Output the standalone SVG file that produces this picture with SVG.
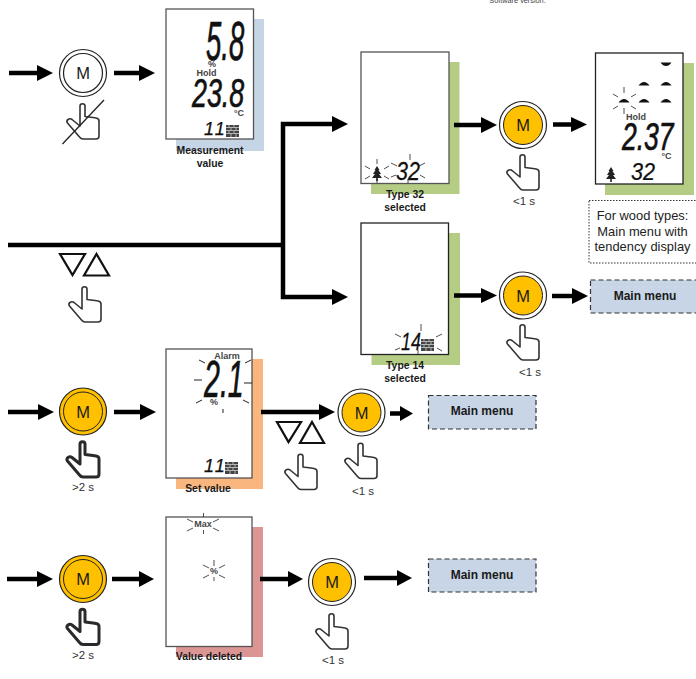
<svg xmlns="http://www.w3.org/2000/svg" width="696" height="679" viewBox="0 0 696 679">
<style>
text{font-family:"Liberation Sans",Arial,sans-serif;text-anchor:middle}
.lab{font-size:10.400px;font-weight:bold;fill:#1a1a1a}
.t{font-size:11.500px;fill:#333}
.m{font-size:16.500px;fill:#1a1a1a}
.lcdl{font-size:9px;font-weight:bold;fill:#444}
.lcd{font-style:italic;fill:#111;text-anchor:start;stroke:#111;stroke-width:.7px}
.lcds{font-style:italic;fill:#111;text-anchor:start;stroke:#111;stroke-width:.25px}
.box{fill:#fff;stroke:#555;stroke-width:1.300}
.mn{fill:#c8d5e6;stroke:#333;stroke-width:1.200;stroke-dasharray:5 3}
.mnt{font-size:12px;font-weight:bold;fill:#1a1a1a}
.ray{stroke:#222;stroke-width:.8;fill:none}
.conn{stroke:#000;stroke-width:4.500;fill:none}
.head{fill:#000}
.tri{fill:none;stroke:#111;stroke-width:2.200}
.wd{font-size:12.900px;fill:#222}
</style>
<defs>
<path id="hand" d="M14 3Q14 .7 16.500 .7Q19 .7 19 3V13.500L23 14L27 14.500L30 15Q33 15.500 33 18V33Q33 36 30 36H17Q15 36 13.500 34L1.500 20Q0 18 2 16.500Q4 15 6 16.500L14 23Z" fill="#fff" stroke="#333" stroke-width="1.600" stroke-linejoin="round"/>
<path id="handb" d="M14 3Q14 .7 16.500 .7Q19 .7 19 3V13.500L23 14L27 14.500L30 15Q33 15.500 33 18V33Q33 36 30 36H17Q15 36 13.500 34L1.500 20Q0 18 2 16.500Q4 15 6 16.500L14 23Z" fill="#fff" stroke="#2a2a2a" stroke-width="3" stroke-linejoin="round"/>
<g id="brick"><rect width="13" height="12" fill="#444"/><path d="M0 2.500H13M0 5.500H13M0 8.500H13M3 0V2.500M8 0V2.500M5 2.500V5.500M10 2.500V5.500M3 5.500V8.500M8 5.500V8.500M5 8.500V12M10 8.500V12" stroke="#ddd" stroke-width=".7" fill="none"/></g>
<path id="tree" d="M5 0L7.500 4H6.500L9 8H7L10 12H5.800V15H4.200V12H0L3 8H1L3.500 4H2.500Z" fill="#222"/>
<path id="lens" d="M-5.500 1.500Q-3 -2 0 -2Q3 -2 5.500 1.500Z" fill="#111"/>
</defs>

<text x="517.500" y="2.500" style="font-size:7.300px" fill="#444">Software version.</text>

<g id="button-m1">
<circle cx="83" cy="73" r="23.500" fill="#fff" stroke="#222" stroke-width="1.200"/><circle cx="83" cy="73" r="19.500" fill="#fff" stroke="#222" stroke-width="1.200"/>
<text class="m" x="83" y="79">M</text>
<use href="#hand" x="66" y="103"/>
<path d="M62.500 144L104 100" stroke="#222" stroke-width="1.300"/>
</g>

<g id="display-measurement">
<rect x="176" y="19" width="88" height="132" fill="#c6d5e6"/>
<rect class="box" x="166" y="9" width="87.500" height="130"/>
<text class="lcd" transform="translate(206 60) scale(.5 1)" style="font-size:55px">5.8</text>
<text class="lcdl" x="212" y="67">%</text>
<text class="lcdl" x="206.500" y="76">Hold</text>
<text class="lcd" transform="translate(192 107) scale(.67 1)" style="font-size:40px">23.8</text>
<text class="lcdl" x="239" y="116">°C</text>
<text class="lcds" x="204" y="135" style="font-size:18px;letter-spacing:2px">11</text>
<use href="#brick" x="226" y="125"/>
<text class="lab" x="210" y="154">Measurement</text>
<text class="lab" x="210" y="167">value</text>
</g>

<g id="select-triangles-1">
<path class="tri" d="M60 254H85L72.500 275ZM96.500 254L109 275.500H84Z"/>
<use href="#hand" x="68" y="286"/>
</g>

<g id="display-type32">
<rect x="371" y="62" width="88.500" height="132" fill="#b5cc84"/>
<rect class="box" x="361" y="52" width="88" height="131.500"/>
<use href="#tree" x="372" y="166"/>
<text class="lcds" transform="translate(396 180) scale(.86 1)" style="font-size:25px">32</text>
<path class="ray" d="M377 159V164M365 166L370 169M389 166L384 169M365 179L370 176M389 179L384 176M377 179V183M410 154V160M391 163L397 166M425 163L419 166M391 177L396 175M425 178L420 175M408 179V183"/>
<text class="lab" x="405" y="198">Type 32</text>
<text class="lab" x="405" y="211">selected</text>
</g>

<g id="button-m2">
<circle cx="523" cy="125" r="23.500" fill="#fff" stroke="#222" stroke-width="1.200"/><circle cx="523" cy="125" r="19.500" fill="#ffc000" stroke="#222" stroke-width="1"/>
<text class="m" x="523" y="131">M</text>
<use href="#hand" x="506" y="154"/>
<text class="t" x="524" y="205">&lt;1 s</text>
</g>

<g id="display-tendency">
<rect x="605" y="63" width="89" height="132" fill="#b5cc84"/>
<rect class="box" x="595.500" y="53" width="87.500" height="131" style="stroke:#222"/>
<use href="#lens" transform="translate(666 64) scale(1 -1)"/>
<use href="#lens" x="644" y="84"/><use href="#lens" x="666" y="84"/>
<use href="#lens" x="624" y="101"/><use href="#lens" x="644" y="101"/><use href="#lens" x="666" y="101"/>
<path class="ray" d="M624 87V93M613 94L618 97M636 94L631 97M613 109L618 106M636 109L631 106M624 108V114"/>
<text class="lcdl" x="636" y="120">Hold</text>
<text class="lcd" transform="translate(622 150) scale(.68 1)" style="font-size:39px">2.37</text>
<text class="lcdl" x="666.500" y="159">°C</text>
<use href="#tree" x="606" y="167"/>
<text class="lcds" transform="translate(631 180) scale(.9 1)" style="font-size:24px">32</text>
</g>

<g id="note-wood-types">
<rect x="589" y="200.500" width="120" height="62.500" fill="#fff" stroke="#333" stroke-width="1" stroke-dasharray="1.500 1.500"/>
<text class="wd" x="642.500" y="220">For wood types:</text>
<text class="wd" x="642.500" y="236">Main menu with</text>
<text class="wd" x="642.500" y="251">tendency display</text>
</g>

<g id="display-type14">
<rect x="371.500" y="233" width="88.500" height="132" fill="#b5cc84"/>
<rect class="box" x="361" y="223" width="87.500" height="131.500" style="stroke:#222"/>
<text class="lcds" transform="translate(401 350) scale(.78 1)" style="font-size:23px">14</text>
<use href="#brick" x="421" y="339"/>
<path class="ray" d="M421 324V331M395 334L401 337M442 334L436 337M395 350L400 348M442 351L437 348M418 350V354"/>
<text class="lab" x="405" y="369">Type 14</text>
<text class="lab" x="405" y="382">selected</text>
</g>

<g id="button-m3">
<circle cx="523" cy="295.500" r="23.500" fill="#fff" stroke="#222" stroke-width="1.200"/><circle cx="523" cy="295.500" r="19.500" fill="#ffc000" stroke="#222" stroke-width="1"/>
<text class="m" x="523" y="301.500">M</text>
<use href="#hand" x="506" y="324"/>
<text class="t" x="530" y="376">&lt;1 s</text>
</g>

<g id="main-menu-1">
<rect class="mn" x="590.500" y="280" width="110" height="33"/>
<text class="mnt" x="645" y="300">Main menu</text>
</g>

<g id="button-m4">
<circle cx="83" cy="411.500" r="23.500" fill="#ffc000" stroke="#222" stroke-width="1.200"/><circle cx="83" cy="411.500" r="19.500" fill="#ffc000" stroke="#222" stroke-width="1"/>
<text class="m" x="83" y="417.500">M</text>
<use href="#handb" x="66" y="441"/>
<text class="t" x="83" y="491">&gt;2 s</text>
</g>

<g id="display-set-value">
<rect x="176" y="359" width="87" height="130" fill="#f9b67f"/>
<rect class="box" x="166" y="349" width="86" height="129"/>
<text class="lcdl" x="227" y="359">Alarm</text>
<text class="lcd" transform="translate(204 397) scale(.55 1)" style="font-size:52px">2.1</text>
<text class="lcdl" x="214" y="405">%</text>
<path class="ray" style="stroke-width:1" d="M199 360L205 363M245 363L251 360M194 380H202M244 383H252M196 403L202 400M243 400L249 403M223 409V413"/>
<text class="lcds" x="204" y="472" style="font-size:18px;letter-spacing:2px">11</text>
<use href="#brick" x="225" y="462"/>
<text class="lab" x="208" y="492">Set value</text>
</g>

<g id="select-triangles-2">
<path class="tri" d="M277 422H301L288.500 442ZM312 422L324 443H300Z"/>
<use href="#hand" x="284" y="453.500"/>
</g>

<g id="button-m5">
<circle cx="361.500" cy="412.500" r="23.500" fill="#fff" stroke="#222" stroke-width="1.200"/><circle cx="361.500" cy="412.500" r="19.500" fill="#ffc000" stroke="#222" stroke-width="1"/>
<text class="m" x="361.500" y="418.500">M</text>
<use href="#hand" x="344" y="442.500"/>
<text class="t" x="363" y="495">&lt;1 s</text>
</g>

<g id="main-menu-2">
<rect class="mn" x="428.500" y="395.500" width="107.500" height="33.500"/>
<text class="mnt" x="482" y="415">Main menu</text>
</g>

<g id="button-m6">
<circle cx="83" cy="579" r="23.500" fill="#ffc000" stroke="#222" stroke-width="1.200"/><circle cx="83" cy="579" r="19.500" fill="#ffc000" stroke="#222" stroke-width="1"/>
<text class="m" x="83" y="585">M</text>
<use href="#handb" x="66" y="608.500"/>
<text class="t" x="83" y="659">&gt;2 s</text>
</g>

<g id="display-value-deleted">
<rect x="176" y="527" width="87" height="130" fill="#db9694"/>
<rect class="box" x="166" y="517" width="86" height="129.500"/>
<text class="lcdl" x="203" y="526.500">Max</text>
<path class="ray" d="M187 519L193 522M219 519L213 522M187 531L193 528M219 531L213 528M203.500 513V517M203.500 530V534"/>
<text class="lcdl" x="214" y="574">%</text>
<path class="ray" d="M214 560V566M203 565L209 568M225 565L219 568M203 578L209 575M225 578L219 575M214 577V581"/>
<text class="lab" x="209" y="660">Value deleted</text>
</g>

<g id="button-m7">
<circle cx="332" cy="582" r="23.500" fill="#fff" stroke="#222" stroke-width="1.200"/><circle cx="332" cy="582" r="19.500" fill="#ffc000" stroke="#222" stroke-width="1"/>
<text class="m" x="332" y="588">M</text>
<use href="#hand" x="315" y="613"/>
<text class="t" x="333" y="664">&lt;1 s</text>
</g>

<g id="main-menu-3">
<rect class="mn" x="428.500" y="559" width="107.500" height="33"/>
<text class="mnt" x="482" y="579">Main menu</text>
</g>

<g id="connectors">
<path class="conn" d="M9 73H40"/><path class="head" d="M37 65L53 73L37 81Z"/>
<path class="conn" d="M114 73H142"/><path class="head" d="M139 65L155 73L139 81Z"/>
<path class="conn" d="M8 245H283M336 124H283V297H336"/><path class="head" d="M332 116L348 124L332 132Z"/><path class="head" d="M332 289L348 297L332 305Z"/>
<path class="conn" d="M454 125H484"/><path class="head" d="M481 117L497 125L481 133Z"/>
<path class="conn" d="M553 124.500H574"/><path class="head" d="M571 117L587 124.500L571 132Z"/>
<path class="conn" d="M454 295.500H484"/><path class="head" d="M481 288L497 295.500L481 303Z"/>
<path class="conn" d="M552 296H575"/><path class="head" d="M572 288L588 296L572 304Z"/>
<path class="conn" d="M8 412H41"/><path class="head" d="M38 404L54 412L38 420Z"/>
<path class="conn" d="M114 412H143"/><path class="head" d="M140 404L156 412L140 420Z"/>
<path class="conn" d="M261 412H322"/><path class="head" d="M319 404L335 412L319 420Z"/>
<path class="conn" d="M390 413.500H403"/><path class="head" d="M400 406L413 413.500L400 421Z"/>
<path class="conn" d="M7 579H40"/><path class="head" d="M37 571L53 579L37 587Z"/>
<path class="conn" d="M112 579H142"/><path class="head" d="M139 571L154 579L139 587Z"/>
<path class="conn" d="M260 579H291"/><path class="head" d="M288 571L303 579L288 587Z"/>
<path class="conn" d="M364 578H400"/><path class="head" d="M397 570L412 578L397 586Z"/>
</g>
</svg>
